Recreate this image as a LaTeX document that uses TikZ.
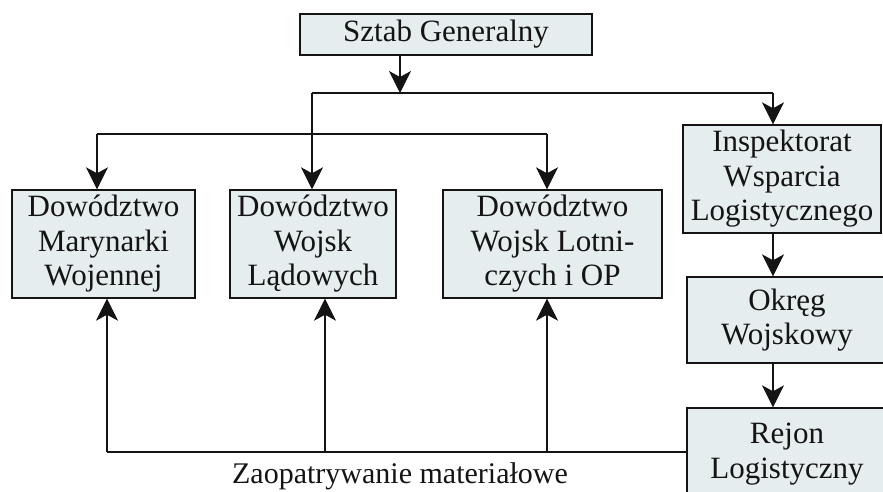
\documentclass[tikz,border=0pt]{standalone}
\usepackage{fontspec}
\setmainfont{Liberation Serif}
\usetikzlibrary{arrows.meta}
\definecolor{boxfill}{RGB}{229,237,239}
\definecolor{ink}{RGB}{20,20,20}
\begin{document}
\begin{tikzpicture}[x=1pt,y=-1pt,
  orgbox/.style={draw=ink, line width=1.4pt, fill=boxfill, inner sep=0pt,
    align=center, text=ink, font=\fontsize{31}{34.5}\selectfont},
  link/.style={draw=ink, line width=1.1pt},
  tip/.style={-{Stealth[length=22pt,width=22pt,inset=6pt]}}]
\useasboundingbox (0,0) rectangle (883,491);
\clip (0,0) rectangle (883,491);

% boxes
\node[orgbox, minimum width=292pt, minimum height=41pt] (sg) at (446,34.5) {Sztab Generalny};
\node[orgbox, minimum width=183pt, minimum height=108pt] (mar) at (103.5,244) {\raisebox{-3pt}{\parbox{180pt}{\centering Dowództwo\\Marynarki\\Wojennej}}};
\node[orgbox, minimum width=166pt, minimum height=108pt] (lad) at (313,244) {\raisebox{-3pt}{\parbox{160pt}{\centering Dowództwo\\Wojsk\\Lądowych}}};
\node[orgbox, minimum width=219pt, minimum height=108pt] (lot) at (552.5,244) {\raisebox{-3pt}{\parbox{215pt}{\centering Dowództwo\\Wojsk Lotni-\\czych i OP}}};
\node[orgbox, minimum width=198pt, minimum height=108pt] (insp) at (782,179) {Inspektorat\\Wsparcia\\Logistycznego};
\node[orgbox, minimum width=200pt, minimum height=86pt] (okr) at (787,320) {Okręg\\Wojskowy};
\node[orgbox, minimum width=200pt, minimum height=92pt] (rej) at (787,454) {Rejon\\Logistyczny};

% junction points of the command lines
\coordinate (j1) at (400,93);
\coordinate (jl) at (312,93);
\coordinate (jr) at (773,93);
\coordinate (kl) at (97,134);
\coordinate (kr) at (547,134);

% supply line points
\coordinate (s0) at (687,452);
\coordinate (sm) at (107,452);
\coordinate (sl) at (325,452);
\coordinate (so) at (547,452);

% command links
\draw[link, tip] (sg.south -| j1) -- (j1);
\draw[link] (jl) -- (jr);
\draw[link, tip] (jr) -- (jr |- insp.north);
\draw[link, tip] (jl) -- (jl |- lad.north);
\draw[link] (kl) -- (kr);
\draw[link, tip] (kl) -- (kl |- mar.north);
\draw[link, tip] (kr) -- (kr |- lot.north);
\draw[link, tip] (insp.south -| jr) -- (jr |- okr.north);
\draw[link, tip] (okr.south -| jr) -- (jr |- rej.north);

% supply links
\draw[link] (rej.west |- s0) -- (sm);
\draw[link, tip] (sm) -- (sm |- mar.south);
\draw[link, tip] (sl) -- (sl |- lad.south);
\draw[link, tip] (so) -- (so |- lot.south);

\node[text=ink, font=\fontsize{30}{34}\selectfont] (lbl) at (400,476) {Zaopatrywanie materiałowe};
\end{tikzpicture}
\end{document}
